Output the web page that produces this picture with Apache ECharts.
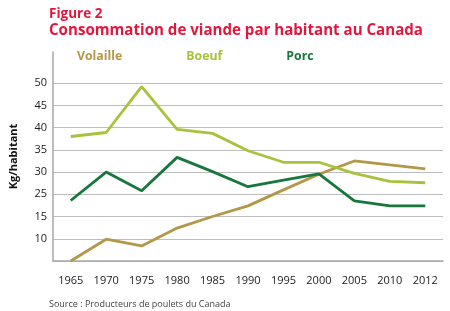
<!DOCTYPE html>
<html><head><meta charset="utf-8">
<script src="https://cdn.jsdelivr.net/npm/echarts@6/dist/echarts.min.js"></script>
<style>html,body{margin:0;padding:0;background:#fff}#c{width:450px;height:311px}</style>
</head><body><div id="c"></div>
<script>
var years = ['1965','1970','1975','1980','1985','1990','1995','2000','2005','2010','2012'];
var volaille = [10.0, 14.9, 13.4, 17.4, 20.0, 22.4, 26.0, 29.5, 32.5, 31.6, 30.7];
var boeuf = [38.0, 38.9, 49.2, 39.6, 38.7, 34.8, 32.2, 32.2, 29.7, 27.9, 27.6];
var porc = [23.6, 30.0, 25.8, 33.3, 30.1, 26.7, 28.2, 29.6, 23.5, 22.4, 22.4];
var yTickValues = [10, 15, 20, 25, 30, 35, 40, 45, 50];
var yTickLabels = ['', '10', '15', '25', '30', '35', '40', '45', '50'];
var seriesNames = ['Volaille', 'Boeuf', 'Porc'];
var colors = ['#b5974a', '#a8c23c', '#17773c'];
var FONT = '"Open Sans", "Noto Sans", sans-serif';

var chart = echarts.init(document.getElementById('c'), null, {renderer: 'canvas'});
var gridColors = yTickValues.map(function(){return '#bdbdbd';}).concat(['rgba(0,0,0,0)','rgba(0,0,0,0)']);
chart.setOption({
  animation: false,
  textStyle: {fontFamily: FONT},
  title: [
    {text: 'Figure 2', left: 44, top: 2, textStyle: {color: '#e3173d', fontSize: 13.5, fontWeight: 'bold', fontFamily: FONT}},
    {text: 'Consommation de viande par habitant au Canada', left: 44, top: 18, textStyle: {color: '#e3173d', fontSize: 15.1, fontWeight: 'bold', fontFamily: FONT}},
    {text: 'Source : Producteurs de poulets du Canada', left: 44, top: 295, textStyle: {color: '#444', fontSize: 9, fontWeight: 'normal', fontFamily: FONT}}
  ],
  legend: {
    top: 45, left: 67, itemGap: 59, icon: 'rect', itemWidth: 0, itemHeight: 0,
    selectedMode: false,
    data: seriesNames.map(function(n, i){ return {name: n, textStyle: {color: colors[i], fontWeight: 'bold', fontSize: 12.3, fontFamily: FONT}}; })
  },
  grid: {left: 46, right: 7, top: 52, bottom: 50, containLabel: false},
  xAxis: {
    type: 'category', data: years, boundaryGap: true,
    axisLine: {lineStyle: {color: '#a8a8a8', width: 1.5}},
    axisTick: {show: false},
    axisLabel: {color: '#222', fontSize: 11, margin: 14, fontFamily: FONT}
  },
  yAxis: {
    type: 'value', min: 10, max: 57, interval: 5,
    name: 'Kg/habitant', nameLocation: 'middle', nameGap: 34, nameRotate: 90,
    nameTextStyle: {color: '#111', fontWeight: 'bold', fontSize: 11, fontFamily: FONT},
    axisLine: {show: true, lineStyle: {color: '#a8a8a8', width: 1.5}},
    axisTick: {show: false},
    axisLabel: {color: '#222', fontSize: 11, margin: 6, fontFamily: FONT,
      formatter: function(v){ var i = yTickValues.indexOf(v); return i >= 0 ? yTickLabels[i] : ''; }},
    splitLine: {show: true, lineStyle: {color: gridColors, width: 1.2}}
  },
  series: [
    {name: seriesNames[0], type: 'line', data: volaille, symbol: 'none', lineStyle: {color: colors[0], width: 2.8}, itemStyle: {color: colors[0]}},
    {name: seriesNames[1], type: 'line', data: boeuf, symbol: 'none', lineStyle: {color: colors[1], width: 2.8}, itemStyle: {color: colors[1]}},
    {name: seriesNames[2], type: 'line', data: porc, symbol: 'none', lineStyle: {color: colors[2], width: 2.8}, itemStyle: {color: colors[2]}}
  ]
});
</script></body></html>
